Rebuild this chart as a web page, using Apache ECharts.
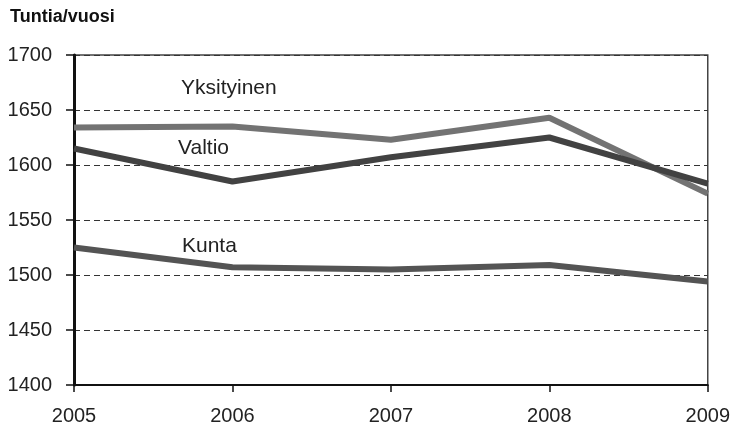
<!DOCTYPE html>
<html>
<head>
<meta charset="utf-8">
<script src="https://cdn.jsdelivr.net/npm/echarts@6/dist/echarts.min.js"></script>
<style>
  html, body { margin: 0; padding: 0; background: #fff; }
  #main { width: 733px; height: 427px; }
</style>
</head>
<body>
<div id="main"></div>
<script>
const chartDom = document.getElementById("main");
const myChart = echarts.init(chartDom);

const years = ["2005", "2006", "2007", "2008", "2009"];
const yksityinen = [1634, 1635, 1623, 1643, 1574];
const valtio = [1615, 1585, 1607, 1625, 1583];
const kunta = [1525, 1507, 1505, 1509, 1494];

const FONT = "'Liberation Sans', Arial, sans-serif";

// series labels sit inside the plot, next to their lines
const seriesLabel = (text, left, top) => ({
    type: "text",
    left: left,
    top: top,
    style: {
        text: text,
        fill: "#222",
        font: "21px " + FONT,
    },
});

const lineSeries = (name, data, color) => ({
    type: "line",
    name: name,
    data: data,
    showSymbol: false,
    silent: true,
    lineStyle: { color: color, width: 6 },
    z: 3,
});

myChart.setOption({
    animation: false,
    grid: {
        left: 74,
        right: 24,
        top: 55,
        bottom: 42,
        show: true,
        borderColor: "#444",
        borderWidth: 1.5,
    },
    graphic: [
        {
            type: "text",
            left: 10,
            top: 8,
            style: {
                text: "Tuntia/vuosi",
                fill: "#111",
                font: "bold 18px " + FONT,
            },
        },
        seriesLabel("Yksityinen", 181, 78),
        seriesLabel("Valtio", 178, 138),
        seriesLabel("Kunta", 182, 236),
    ],
    xAxis: {
        type: "category",
        data: years,
        boundaryGap: false,
        axisLine: { lineStyle: { color: "#111", width: 2 } },
        axisTick: { show: true, length: 7, lineStyle: { color: "#111", width: 1.5 } },
        axisLabel: {
            color: "#222",
            fontSize: 20,
            fontFamily: FONT,
            margin: 21,
        },
        splitLine: { show: false },
    },
    yAxis: {
        type: "value",
        min: 1400,
        max: 1700,
        interval: 50,
        axisLine: { show: true, lineStyle: { color: "#111", width: 3 } },
        axisTick: { show: true, length: 8, lineStyle: { color: "#111", width: 1.5 } },
        axisLabel: {
            color: "#222",
            fontSize: 20,
            fontFamily: FONT,
            margin: 22,
            formatter: (v) => String(v),
        },
        splitLine: {
            show: true,
            lineStyle: { color: "#333", type: [6, 4], width: 1 },
        },
    },
    series: [
        lineSeries("Yksityinen", yksityinen, "#737373"),
        lineSeries("Valtio", valtio, "#424242"),
        lineSeries("Kunta", kunta, "#545454"),
    ],
});
</script>
</body>
</html>
